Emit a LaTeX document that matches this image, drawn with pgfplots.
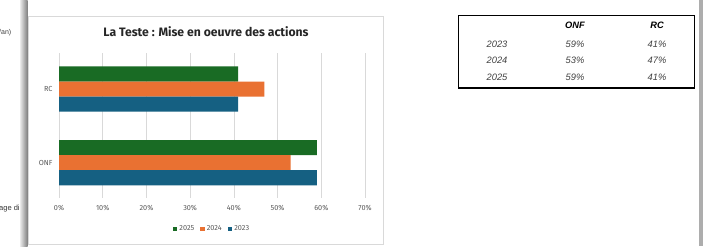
\documentclass[border=0pt]{standalone}
\usepackage{pgfplots}
\pgfplotsset{compat=1.18}
\usepackage{fontspec}
\setmainfont{Fira Sans}
\newfontfamily\arial{Liberation Sans}
\definecolor{cgreen}{HTML}{196B24}
\definecolor{corange}{HTML}{E97132}
\definecolor{cblue}{HTML}{156082}
\definecolor{ctick}{HTML}{595959}
\definecolor{cgrid}{HTML}{D9D9D9}
\begin{document}
\begin{tikzpicture}[x=1pt,y=1pt]
\useasboundingbox[fill=white] (0,0) rectangle (703,246);
% left partial page
\begin{scope}
\clip (0,0) rectangle (22,246);
\node[anchor=west,inner sep=0pt,font=\arial\fontsize{7}{8}\selectfont,text=black!75] at (-1,213) {/an)};
\node[anchor=west,inner sep=0pt,font=\arial\fontsize{7.5}{8}\selectfont,text=black!80] at (-1,37) {age di};
\end{scope}
\shade[left color=black!8,right color=black!50] (20,0) rectangle (27.5,246);
\fill[black!32] (698.5,0) rectangle (703,246);
% chart box
\draw[cgrid,line width=0.8pt] (28.8,2) rectangle (383,229.3);
\node[font=\bfseries\fontsize{12.2}{14}\selectfont,text=black!85] at (206,214) {La Teste : Mise en oeuvre des actions};
\begin{axis}[
  at={(59pt,48pt)},anchor=south west,
  scale only axis,width=306pt,height=145pt,
  xmin=0,xmax=70,ymin=-0.48,ymax=1.49,
  xtick={0,10,...,70},
  xticklabel={\pgfmathprintnumber{\tick}\%},
  /pgf/number format/assume math mode=true,
  ytick={0,1},yticklabels={ONF,RC},
  xmajorgrids,grid style={cgrid,line width=0.7pt},
  axis line style={draw=none},
  major tick length=0pt,
  ticklabel style={font=\fontsize{7.3}{8}\selectfont,text=ctick},
  xticklabel style={yshift=-4pt},
  yticklabel style={xshift=-3pt},
  xbar,bar width=0.205,
  legend style={at={(0.5,-0.215)},anchor=center,draw=none,legend columns=3,
    font=\fontsize{7.3}{8}\selectfont,text=ctick,
    /tikz/every even column/.append style={column sep=4pt}},
  legend image code/.code={\fill[#1] (0pt,-2.3pt) rectangle (4.6pt,2.3pt);},
]
\addplot[draw=none,fill=cgreen,bar shift=0.205] coordinates {(59,0) (41,1)};
\addplot[draw=none,fill=corange,bar shift=0] coordinates {(53,0) (47,1)};
\addplot[draw=none,fill=cblue,bar shift=-0.205] coordinates {(59,0) (41,1)};
\legend{2025,2024,2023}
\end{axis}
% table
\draw[black,line width=1.3pt] (458.5,158) rectangle (694.5,230.5);
\begin{scope}[every node/.style={font=\arial\itshape\fontsize{9.3}{10}\selectfont,text=black!75,inner sep=0pt}]
\node[font=\arial\bfseries\itshape\fontsize{9.3}{10}\selectfont,text=black] at (575,221) {ONF};
\node[font=\arial\bfseries\itshape\fontsize{9.3}{10}\selectfont,text=black] at (657,221) {RC};
\node at (497,202) {2023}; \node at (575,202) {59\%}; \node at (657,202) {41\%};
\node at (497,185.5) {2024}; \node at (575,185.5) {53\%}; \node at (657,185.5) {47\%};
\node at (497,169) {2025}; \node at (575,169) {59\%}; \node at (657,169) {41\%};
\end{scope}
\end{tikzpicture}
\end{document}
